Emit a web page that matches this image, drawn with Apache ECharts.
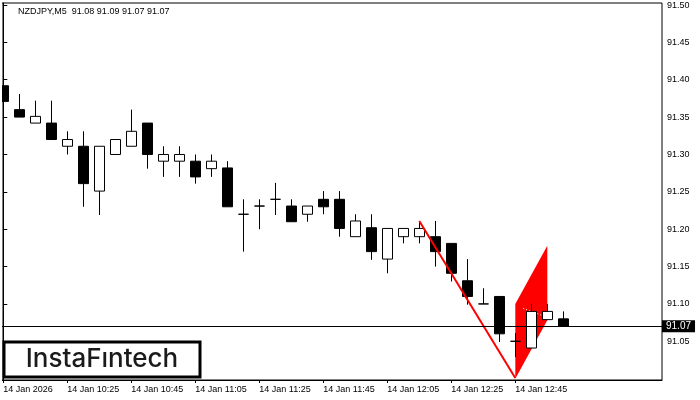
<!DOCTYPE html>
<html><head><meta charset="utf-8">
<script src="https://cdn.jsdelivr.net/npm/echarts@6/dist/echarts.min.js"></script>
<style>html,body{margin:0;padding:0;background:#fff}#c{width:700px;height:400px}</style>
</head><body><div id="c"></div>
<script>
const symbolName = 'NZDJPY,M5';
const barIndex = [0,1,2,3,4,5,6,7,8,9,10,11,12,13,14,15,16,17,18,19,20,21,22,23,24,25,26,27,28,29,30,31,32,33,34,35];
const opens  = [91.392,91.360,91.342,91.342,91.311,91.311,91.251,91.300,91.311,91.342,91.291,91.291,91.291,91.281,91.282,91.220,91.231,91.240,91.231,91.220,91.240,91.240,91.190,91.202,91.160,91.190,91.190,91.190,91.181,91.131,91.100,91.110,91.050,91.041,91.079,91.080];
const highs  = [91.402,91.381,91.372,91.372,91.331,91.331,91.311,91.320,91.360,91.342,91.311,91.311,91.300,91.300,91.291,91.240,91.240,91.262,91.240,91.231,91.251,91.251,91.220,91.220,91.201,91.201,91.211,91.211,91.181,91.160,91.121,91.110,91.061,91.100,91.100,91.090];
const lows   = [91.350,91.350,91.342,91.320,91.300,91.230,91.219,91.300,91.311,91.281,91.270,91.270,91.261,91.270,91.230,91.170,91.200,91.219,91.210,91.210,91.220,91.190,91.190,91.159,91.141,91.181,91.181,91.150,91.130,91.099,91.100,91.049,91.029,91.041,91.079,91.070];
const closes = [91.371,91.350,91.351,91.320,91.320,91.261,91.311,91.320,91.331,91.300,91.300,91.300,91.270,91.291,91.230,91.220,91.231,91.240,91.210,91.231,91.230,91.201,91.211,91.170,91.201,91.201,91.201,91.170,91.141,91.110,91.100,91.060,91.050,91.090,91.090,91.070];
const timeTicks = [0,4,8,12,16,20,24,28,32];
const timeLabels = ['14 Jan 2026','14 Jan 10:25','14 Jan 10:45','14 Jan 11:05','14 Jan 11:25','14 Jan 11:45','14 Jan 12:05','14 Jan 12:25','14 Jan 12:45'];
const priceTicks = [91.05,91.10,91.15,91.20,91.25,91.30,91.35,91.40,91.45,91.50];
const lastOHLC = [91.08, 91.09, 91.07, 91.07];
const lastPrice = 91.07;
const poleLine = [[26, 91.211], [32, 91.001]];
const flagBars = [32, 34];
const flagLow = [91.000, 91.078];
const flagHigh = [91.100, 91.178];
const flagDots = [[32.5, 91.094], [33.75, 91.084]];

const FONT = 'Liberation Sans, Arial, sans-serif';
const candleData = barIndex.map((x, i) => [x, opens[i], closes[i], lows[i], highs[i]]);

const chart = echarts.init(document.getElementById('c'), null, {renderer: 'canvas'});
chart.setOption({
  animation: false,
  backgroundColor: '#fff',
  title: {
    text: symbolName + '  ' + lastOHLC.map(v => v.toFixed(2)).join(' '),
    left: 18, top: 7, padding: 0,
    textStyle: {fontSize: 9, fontWeight: 'normal', color: '#000', fontFamily: FONT}
  },
  grid: {left: 2, right: 38, top: 3, bottom: 20, show: true, borderColor: '#000', borderWidth: 1, containLabel: false},
  xAxis: {
    type: 'value', min: -0.081, max: 41.169,
    splitLine: {show: false},
    axisLine: {show: true, onZero: false, lineStyle: {color: '#000', width: 1}},
    axisTick: {show: true, length: 3, customValues: timeTicks, lineStyle: {color: '#000'}},
    axisLabel: {
      customValues: timeTicks, align: 'left', margin: 5,
      formatter: v => timeLabels[timeTicks.indexOf(Math.round(v))] || '',
      color: '#000', fontSize: 9, fontFamily: FONT
    }
  },
  yAxis: {
    type: 'value', position: 'right', min: 90.9982, max: 91.5027, scale: true,
    splitLine: {show: false},
    axisLine: {show: true, lineStyle: {color: '#000', width: 1}},
    axisTick: {show: true, length: 4, customValues: priceTicks, lineStyle: {color: '#000'}},
    axisLabel: {customValues: priceTicks, formatter: v => v.toFixed(2), color: '#000', fontSize: 9, fontFamily: FONT, margin: 5}
  },
  series: [
    {
      type: 'custom', z: 1, silent: true,
      data: [[flagBars[0], flagLow[0], flagHigh[0], flagBars[1], flagLow[1], flagHigh[1]]],
      renderItem: (params, api) => {
        const p1 = api.coord([api.value(0), api.value(1)]);
        const p2 = api.coord([api.value(3), api.value(4)]);
        const p3 = api.coord([api.value(3), api.value(5)]);
        const p4 = api.coord([api.value(0), api.value(2)]);
        return {type: 'polygon', shape: {points: [p1, p2, p3, p4]}, style: {fill: '#ff0000', stroke: null}};
      }
    },
    {
      type: 'line', z: 2, silent: true, symbol: 'none', data: flagDots,
      lineStyle: {color: '#fff', width: 1, type: [1, 2]}
    },
    {
      type: 'candlestick', z: 3, data: candleData, barWidth: 10,
      encode: {x: 0, y: [1, 2, 3, 4]},
      itemStyle: {color: '#fff', color0: '#000', borderColor: '#000', borderColor0: '#000', borderColorDoji: '#000', borderWidth: 1},
      markLine: {
        silent: true, symbol: ['none', 'none'], z: 6,
        lineStyle: {color: '#000', width: 1, type: 'solid'},
        label: {
          show: true, position: 'end', distance: 0,
          formatter: p => p.value.toFixed(2),
          backgroundColor: '#000', color: '#fff', fontSize: 10, fontFamily: FONT,
          padding: [1, 4, 1, 4]
        },
        data: [{yAxis: lastPrice}]
      }
    },
    {
      type: 'line', z: 5, silent: true, symbol: 'none', data: poleLine,
      lineStyle: {color: '#ff0000', width: 2}
    }
  ],
  graphic: [
    {type: 'rect', z: 50, silent: true, shape: {x: 0, y: 0, width: 2, height: 400}, style: {fill: '#fff'}},
    {
      type: 'group', z: 100,
      children: [
        {type: 'rect', shape: {x: 4, y: 342, width: 196, height: 35}, style: {fill: '#fff', stroke: '#000', lineWidth: 3}},
        {type: 'text', x: 102, y: 359.5, style: {text: 'InstaFıntech', fill: '#1a1a1a', font: '500 26px Inter, Lato, sans-serif', textAlign: 'center', textVerticalAlign: 'middle'}}
      ]
    }
  ]
});
</script>
</body></html>
